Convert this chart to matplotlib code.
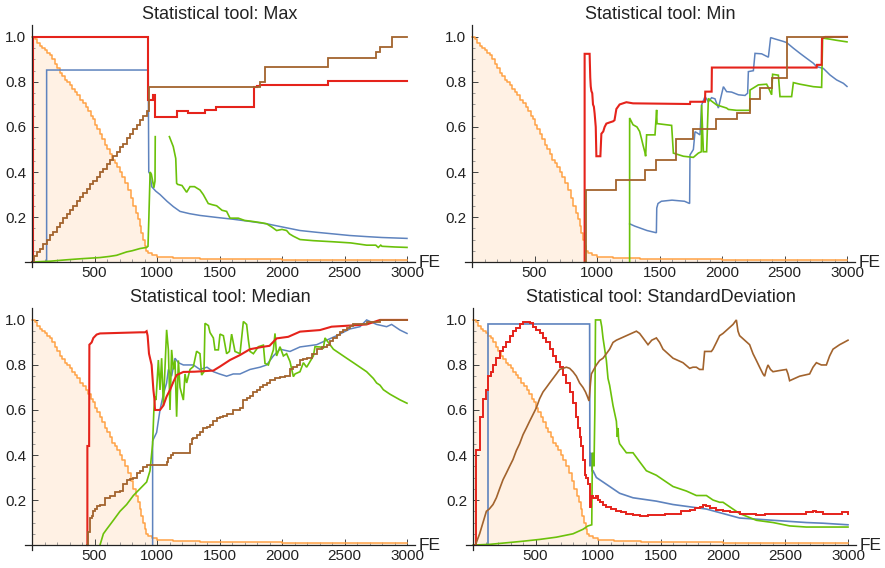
"""Four panels: normalised statistics of five series vs. function evaluations (FE)."""

import matplotlib.pyplot as plt
import numpy as np
from matplotlib.ticker import FixedLocator, MultipleLocator

plt.rcParams["font.family"] = ["Liberation Sans", "DejaVu Sans"]

# ---------------------------------------------------------------- data
# each series is a list of (FE, value) points

titles = ["Statistical tool: Max", "Statistical tool: Min",
          "Statistical tool: Median", "Statistical tool: StandardDeviation"]
x_ticks = [500, 1000, 1500, 2000, 2500, 3000]
x_tick_labels = ["500", "1000", "1500", "2000", "2500", "3000"]
y_ticks = [0.2, 0.4, 0.6, 0.8, 1.0]
y_tick_labels = ["0.2", "0.4", "0.6", "0.8", "1.0"]

# shared, filled curve (same in every panel)
orange = [(0, 1.0), (20, 0.99), (40, 0.975), (60, 0.96), (80, 0.95), (100, 0.94),
          (120, 0.93), (140, 0.92), (160, 0.90), (180, 0.88), (200, 0.86), (220, 0.84),
          (240, 0.825), (260, 0.81), (280, 0.80), (300, 0.785), (320, 0.77), (340, 0.755),
          (360, 0.74), (385, 0.72), (410, 0.705), (430, 0.69), (450, 0.67), (470, 0.65),
          (490, 0.635), (505, 0.61), (520, 0.59), (540, 0.57), (560, 0.545), (580, 0.52),
          (600, 0.50), (620, 0.48), (640, 0.455), (660, 0.44), (680, 0.42), (700, 0.40),
          (720, 0.38), (745, 0.35), (770, 0.32), (790, 0.285), (810, 0.25), (830, 0.22),
          (850, 0.19), (865, 0.16), (875, 0.13), (890, 0.10), (900, 0.07), (915, 0.05),
          (930, 0.04), (960, 0.03), (1000, 0.024), (1130, 0.016), (1340, 0.013),
          (2000, 0.01), (2500, 0.007), (2800, 0.009), (3000, 0.01)]

# --- Max
max_red = [(0, 0.0), (8, 1.0), (931, 0.72), (968, 0.742), (984, 0.645), (1162, 0.672),
           (1250, 0.661), (1382, 0.676), (1470, 0.69), (1778, 0.779), (1800, 0.783),
           (1824, 0.787), (2370, 0.804), (3000, 0.804)]
max_blue = [(117, 0.0), (117, 0.853), (930, 0.853), (934, 0.40), (945, 0.39), (957, 0.335),
            (990, 0.315), (1024, 0.30), (1080, 0.27), (1131, 0.246), (1184, 0.225),
            (1260, 0.215), (1344, 0.207), (1480, 0.198), (1611, 0.19), (1750, 0.18),
            (1877, 0.17), (2010, 0.155), (2144, 0.14), (2280, 0.132), (2411, 0.125),
            (2540, 0.118), (2677, 0.113), (2800, 0.109), (2900, 0.107), (3000, 0.105)]
max_green = [(0, 0.0), (150, 0.004), (277, 0.01), (400, 0.015), (544, 0.02), (620, 0.025),
             (677, 0.03), (757, 0.045), (800, 0.05), (864, 0.06), (917, 0.065), (928, 0.07),
             (935, 0.2), (945, 0.40), (955, 0.39), (965, 0.36), (975, 0.33), (984, 0.36),
             (986, 0.557), (990, np.nan), (1099, 0.557), (1130, 0.513), (1150, 0.46),
             (1157, 0.35), (1165, 0.345), (1200, 0.34), (1237, 0.31), (1264, 0.335),
             (1300, 0.335), (1344, 0.32), (1370, 0.30), (1410, 0.26), (1440, 0.255),
             (1477, 0.25), (1520, 0.23), (1557, 0.225), (1584, 0.195), (1650, 0.195),
             (1700, 0.185), (1770, 0.18), (1830, 0.175), (1877, 0.17), (1920, 0.155),
             (1957, 0.14), (2000, 0.145), (2037, 0.14), (2060, 0.125), (2090, 0.115),
             (2144, 0.10), (2250, 0.095), (2410, 0.09), (2550, 0.085), (2677, 0.075),
             (2750, 0.075), (2770, 0.065), (2790, 0.075), (2800, 0.07), (2900, 0.067),
             (3000, 0.065)]
max_brown = [(0, 0.0), (15, 0.025), (40, 0.045), (65, 0.06), (90, 0.08), (118, 0.10),
             (145, 0.12), (170, 0.135), (198, 0.155), (225, 0.175), (250, 0.195),
             (278, 0.215), (305, 0.23), (330, 0.25), (358, 0.27), (385, 0.29), (410, 0.305),
             (438, 0.325), (465, 0.345), (490, 0.36), (518, 0.38), (545, 0.40), (570, 0.415),
             (598, 0.435), (625, 0.455), (650, 0.47), (678, 0.49), (705, 0.51), (730, 0.525),
             (758, 0.55), (785, 0.57), (810, 0.59), (838, 0.61), (865, 0.63), (890, 0.65),
             (918, 0.67), (933, 0.779), (1824, 0.80), (1864, 0.868), (2370, 0.905),
             (2750, 0.935), (2784, 0.955), (2877, 1.0), (3000, 1.0)]

# --- Min
min_red = [(901, 0.0), (901, 0.925), (941, 0.925), (946, 0.82), (950, 0.78), (955, 0.76),
           (962, 0.75), (968, 0.70), (975, 0.69), (981, 0.66), (990, 0.60), (995, 0.47),
           (1027, 0.47), (1035, 0.57), (1050, 0.58), (1061, 0.60), (1075, 0.615),
           (1100, 0.62), (1128, 0.625), (1140, 0.63), (1155, 0.68), (1181, 0.70),
           (1235, 0.71), (1288, 0.705), (1744, 0.702), (1746, 0.712), (1864, 0.712),
           (1866, 0.757), (1917, 0.757), (1919, 0.864), (2757, 0.864), (2760, 0.876),
           (2797, 0.876), (2800, 0.994), (2824, 1.0), (3000, 1.0)]
min_blue = [(1261, 0.17), (1300, 0.16), (1350, 0.15), (1400, 0.14), (1475, 0.13),
            (1478, 0.24), (1488, 0.26), (1515, 0.27), (1600, 0.275), (1700, 0.27),
            (1741, 0.26), (1744, 0.476), (1771, 0.50), (1784, 0.579), (1797, 0.575),
            (1824, 0.565), (1837, 0.698), (1864, 0.735), (1891, 0.712), (1917, 0.73),
            (1944, 0.725), (1971, 0.684), (2011, 0.779), (2037, 0.757), (2077, 0.755),
            (2131, 0.743), (2184, 0.74), (2205, 0.75), (2211, 0.846), (2251, 0.85),
            (2264, 0.927), (2317, 0.925), (2371, 0.91), (2389, 0.997), (2430, 0.99),
            (2491, 0.98), (2517, 0.975), (2571, 0.95), (2624, 0.927), (2677, 0.905),
            (2731, 0.883), (2757, 0.868), (2811, 0.86), (2864, 0.831), (2917, 0.809),
            (2971, 0.794), (3000, 0.78)]
min_green = [(1261, 0.0), (1261, 0.64), (1288, 0.61), (1320, 0.60), (1341, 0.58),
             (1355, 0.55), (1368, 0.52), (1384, 0.486), (1389, 0.47), (1397, 0.565),
             (1464, 0.565), (1477, 0.676), (1480, 0.615), (1597, 0.607), (1611, 0.484),
             (1691, 0.47), (1771, 0.465), (1811, 0.484), (1835, 0.49), (1837, 0.698),
             (1851, 0.49), (1877, 0.49), (1891, 0.727), (1904, 0.72), (1957, 0.698),
             (2037, 0.684), (2051, 0.678), (2117, 0.674), (2222, 0.674), (2224, 0.764),
             (2291, 0.787), (2357, 0.79), (2371, 0.775), (2397, 0.743), (2405, 0.834),
             (2451, 0.83), (2464, 0.735), (2557, 0.735), (2571, 0.797), (2624, 0.79),
             (2731, 0.779), (2797, 0.776), (2805, 0.995), (2864, 0.99), (2917, 0.985),
             (3000, 0.978)]
min_brown = [(901, 0.0), (915, 0.32), (1155, 0.364), (1384, 0.409), (1472, 0.453),
             (1632, 0.547), (1771, 0.591), (1952, 0.636), (2123, 0.662), (2224, 0.724),
             (2304, 0.773), (2397, 0.818), (2517, 1.0), (3000, 1.0)]

# --- Median
med_red = [(443, 0.0), (443, 0.44), (457, 0.44), (459, 0.89), (477, 0.90), (491, 0.92),
           (517, 0.935), (544, 0.94), (864, 0.945), (904, 0.945), (917, 0.95), (925, 0.93),
           (936, 0.85), (957, 0.80), (971, 0.69), (979, 0.65), (984, 0.60), (1024, 0.60),
           (1051, 0.62), (1077, 0.66), (1104, 0.689), (1131, 0.725), (1157, 0.755),
           (1211, 0.769), (1300, 0.77), (1451, 0.775), (1504, 0.793), (1584, 0.822),
           (1664, 0.844), (1744, 0.87), (1851, 0.881), (1900, 0.885), (1957, 0.918),
           (2050, 0.925), (2144, 0.948), (2304, 0.955), (2397, 0.97), (2544, 0.975),
           (2677, 0.98), (2784, 1.0), (3000, 1.0)]
med_blue = [(965, 0.0), (965, 0.46), (971, 0.47), (997, 0.50), (1024, 0.60), (1051, 0.67),
            (1077, 0.72), (1091, 0.78), (1117, 0.75), (1144, 0.83), (1171, 0.81),
            (1211, 0.80), (1291, 0.80), (1344, 0.78), (1400, 0.79), (1451, 0.77),
            (1500, 0.76), (1557, 0.75), (1610, 0.76), (1664, 0.76), (1744, 0.78),
            (1824, 0.79), (1877, 0.80), (1931, 0.84), (1984, 0.87), (2064, 0.86),
            (2144, 0.88), (2277, 0.89), (2357, 0.91), (2437, 0.93), (2544, 0.96),
            (2624, 0.97), (2677, 1.0), (2757, 0.98), (2837, 0.97), (2877, 0.98),
            (2944, 0.955), (3000, 0.94)]
med_green = [(544, 0.0), (571, 0.05), (597, 0.07), (651, 0.11), (704, 0.15), (757, 0.18),
             (811, 0.22), (864, 0.25), (917, 0.28), (944, 0.33), (965, 0.45), (975, 0.60),
             (984, 0.66), (992, 0.644), (1011, 0.822), (1024, 0.689), (1037, 0.83),
             (1051, 0.62), (1077, 0.956), (1091, 0.867), (1104, 0.60), (1117, 0.867),
             (1131, 0.78), (1144, 0.82), (1157, 0.57), (1171, 0.82), (1184, 0.70),
             (1211, 0.644), (1224, 0.76), (1237, 0.72), (1264, 0.78), (1291, 0.793),
             (1317, 0.861), (1344, 0.85), (1357, 0.755), (1376, 0.77), (1384, 0.985),
             (1411, 0.975), (1424, 0.944), (1451, 0.92), (1464, 0.867), (1491, 0.867),
             (1504, 0.937), (1531, 0.93), (1557, 0.85), (1579, 0.86), (1597, 0.937),
             (1624, 0.86), (1664, 0.85), (1691, 0.993), (1717, 0.98), (1731, 0.911),
             (1744, 0.86), (1771, 0.85), (1811, 0.881), (1851, 0.888), (1864, 0.807),
             (1891, 0.80), (1931, 0.867), (1944, 0.94), (1957, 0.84), (1984, 0.881),
             (2011, 0.84), (2037, 0.85), (2064, 0.815), (2091, 0.748), (2104, 0.76),
             (2144, 0.77), (2171, 0.81), (2197, 0.79), (2251, 0.84), (2264, 0.881),
             (2304, 0.88), (2331, 0.875), (2344, 0.92), (2384, 0.89), (2411, 0.87),
             (2464, 0.85), (2517, 0.83), (2571, 0.81), (2624, 0.79), (2677, 0.77),
             (2731, 0.74), (2757, 0.72), (2784, 0.71), (2811, 0.69), (2864, 0.67),
             (2944, 0.645), (3000, 0.63)]
med_brown = [(443, 0.0), (444, 0.06), (465, 0.12), (477, 0.13), (490, 0.15), (504, 0.16),
             (520, 0.175), (544, 0.18), (584, 0.21), (624, 0.22), (664, 0.235), (704, 0.24),
             (730, 0.27), (757, 0.29), (784, 0.295), (811, 0.30), (838, 0.32), (864, 0.33),
             (890, 0.345), (917, 0.355), (1077, 0.37), (1091, 0.385), (1111, 0.40),
             (1131, 0.41), (1264, 0.45), (1277, 0.47), (1291, 0.475), (1317, 0.49),
             (1344, 0.50), (1371, 0.52), (1397, 0.525), (1424, 0.535), (1451, 0.55),
             (1477, 0.565), (1504, 0.57), (1530, 0.575), (1557, 0.58), (1611, 0.60),
             (1664, 0.61), (1691, 0.645), (1717, 0.655), (1744, 0.66), (1771, 0.68),
             (1797, 0.69), (1824, 0.70), (1851, 0.71), (1877, 0.72), (1904, 0.735),
             (1944, 0.74), (1984, 0.745), (2024, 0.75), (2064, 0.78), (2091, 0.79),
             (2117, 0.80), (2144, 0.82), (2171, 0.825), (2197, 0.83), (2237, 0.85),
             (2277, 0.87), (2317, 0.88), (2357, 0.89), (2384, 0.905), (2411, 0.92),
             (2437, 0.935), (2464, 0.945), (2490, 0.955), (2517, 0.965), (2544, 0.975),
             (2571, 0.98), (2677, 0.99), (2784, 1.0), (3000, 1.0)]

# --- StandardDeviation
std_red = [(19, 0.0), (21, 0.42), (53, 0.57), (80, 0.65), (107, 0.69), (120, 0.75),
           (140, 0.77), (160, 0.80), (187, 0.83), (213, 0.86), (240, 0.88), (267, 0.90),
           (293, 0.93), (320, 0.95), (347, 0.965), (373, 0.98), (400, 0.99), (427, 0.99),
           (453, 0.985), (480, 0.97), (507, 0.955), (533, 0.94), (560, 0.92), (587, 0.90),
           (613, 0.87), (640, 0.84), (667, 0.815), (693, 0.79), (720, 0.755), (747, 0.72),
           (773, 0.68), (800, 0.63), (820, 0.57), (840, 0.52), (853, 0.48), (867, 0.44),
           (880, 0.38), (893, 0.31), (907, 0.30), (920, 0.27), (933, 0.17), (947, 0.22),
           (960, 0.21), (973, 0.21), (987, 0.22), (1000, 0.20), (1013, 0.19), (1040, 0.18),
           (1067, 0.17), (1100, 0.16), (1147, 0.15), (1187, 0.145), (1227, 0.14),
           (1280, 0.135), (1333, 0.13), (1400, 0.135), (1467, 0.135), (1533, 0.14),
           (1600, 0.14), (1667, 0.15), (1733, 0.155), (1780, 0.165), (1813, 0.17),
           (1840, 0.18), (1867, 0.175), (1900, 0.165), (1947, 0.155), (2000, 0.15),
           (2053, 0.145), (2133, 0.14), (2200, 0.138), (2267, 0.135), (2333, 0.14),
           (2400, 0.14), (2500, 0.14), (2600, 0.14), (2667, 0.145), (2720, 0.15),
           (2747, 0.148), (2800, 0.14), (2900, 0.14), (2950, 0.145), (3000, 0.14)]
std_blue = [(120, 0.0), (120, 0.982), (933, 0.982), (935, 0.35), (945, 0.41), (952, 0.33),
            (960, 0.33), (987, 0.30), (1067, 0.27), (1173, 0.23), (1280, 0.21),
            (1467, 0.195), (1600, 0.18), (1733, 0.17), (1867, 0.16), (2000, 0.14),
            (2133, 0.12), (2267, 0.115), (2400, 0.11), (2533, 0.105), (2667, 0.10),
            (2800, 0.097), (3000, 0.09)]
std_green = [(0, 0.0), (133, 0.003), (267, 0.01), (400, 0.017), (533, 0.025), (667, 0.035),
             (800, 0.05), (880, 0.07), (920, 0.085), (950, 0.09), (955, 0.41), (965, 0.40),
             (968, 0.35), (975, 0.60), (980, 1.0), (1020, 1.0), (1030, 0.97), (1040, 0.92),
             (1067, 0.82), (1080, 0.74), (1093, 0.71), (1120, 0.62), (1147, 0.55),
             (1155, 0.48), (1160, 0.52), (1165, 0.47), (1173, 0.45), (1200, 0.43),
             (1227, 0.41), (1280, 0.41), (1333, 0.37), (1387, 0.33), (1467, 0.31),
             (1520, 0.29), (1600, 0.26), (1707, 0.24), (1787, 0.22), (1867, 0.22),
             (1920, 0.20), (1973, 0.19), (2000, 0.19), (2053, 0.17), (2133, 0.14),
             (2200, 0.125), (2267, 0.11), (2400, 0.10), (2533, 0.085), (2667, 0.08),
             (3000, 0.08)]
std_brown = [(19, 0.0), (53, 0.05), (80, 0.10), (107, 0.15), (130, 0.16), (160, 0.18),
             (187, 0.21), (213, 0.25), (240, 0.29), (267, 0.32), (293, 0.35), (320, 0.38),
             (347, 0.42), (373, 0.45), (400, 0.49), (427, 0.52), (453, 0.55), (480, 0.58),
             (507, 0.61), (533, 0.65), (560, 0.68), (587, 0.70), (613, 0.72), (640, 0.74),
             (667, 0.76), (693, 0.78), (720, 0.785), (747, 0.79), (773, 0.785), (800, 0.77),
             (827, 0.75), (853, 0.72), (880, 0.70), (900, 0.68), (915, 0.66), (928, 0.64),
             (940, 0.72), (947, 0.76), (967, 0.78), (987, 0.80), (1013, 0.82), (1040, 0.83),
             (1067, 0.85), (1093, 0.87), (1120, 0.90), (1147, 0.91), (1187, 0.92),
             (1227, 0.93), (1267, 0.94), (1307, 0.95), (1333, 0.94), (1360, 0.92),
             (1400, 0.89), (1430, 0.91), (1467, 0.92), (1493, 0.90), (1520, 0.87),
             (1560, 0.85), (1600, 0.83), (1640, 0.82), (1680, 0.81), (1733, 0.785),
             (1760, 0.79), (1787, 0.79), (1813, 0.78), (1840, 0.78), (1853, 0.86),
             (1880, 0.86), (1907, 0.86), (1920, 0.87), (1947, 0.90), (1973, 0.93),
             (2000, 0.94), (2040, 0.96), (2080, 0.98), (2107, 1.0), (2120, 0.95),
             (2133, 0.93), (2173, 0.91), (2213, 0.89), (2240, 0.85), (2267, 0.82),
             (2293, 0.79), (2320, 0.76), (2333, 0.75), (2347, 0.78), (2360, 0.80),
             (2380, 0.78), (2400, 0.77), (2450, 0.775), (2507, 0.78), (2520, 0.76),
             (2533, 0.73), (2573, 0.74), (2613, 0.75), (2653, 0.755), (2693, 0.76),
             (2720, 0.79), (2747, 0.81), (2787, 0.80), (2827, 0.80), (2853, 0.84),
             (2880, 0.87), (2933, 0.89), (2967, 0.90), (3000, 0.91)]

# ---------------------------------------------------------------- style
ORANGE = "#FFA245"
RED = "#E5231B"
BLUE = "#5E83BE"
GREEN = "#6BC10A"
BROWN = "#A2632D"

# (series, colour, linewidth, drawstyle) per panel, bottom to top
panels = [
    [(max_blue, BLUE, 1.1, "default"), (max_green, GREEN, 1.2, "default"),
     (max_red, RED, 1.5, "steps-post"), (max_brown, BROWN, 1.3, "steps-post")],
    [(min_blue, BLUE, 1.1, "default"), (min_green, GREEN, 1.2, "default"),
     (min_red, RED, 1.5, "default"), (min_brown, BROWN, 1.3, "steps-post")],
    [(med_blue, BLUE, 1.1, "default"), (med_green, GREEN, 1.2, "default"),
     (med_red, RED, 1.5, "default"), (med_brown, BROWN, 1.3, "steps-post")],
    [(std_blue, BLUE, 1.2, "default"), (std_green, GREEN, 1.2, "default"),
     (std_red, RED, 1.4, "steps-post"), (std_brown, BROWN, 1.2, "default")],
]

# axes boxes in pixels: left, top, right, bottom
W, H = 885, 568
boxes = [(25, 25, 415, 267), (465, 25, 855, 267),
         (25, 308, 415, 550), (466, 308, 856, 550)]


def draw_panel(ax, title, series):
    ox, oy = np.array(orange).T
    ax.fill_between(ox, oy, 0, step="post", color=ORANGE, alpha=0.14, lw=0)
    ax.plot(ox, oy, color=ORANGE, lw=1.1, drawstyle="steps-post")
    for pts, col, lw, ds in series:
        x, y = np.array(pts, dtype=float).T
        ax.plot(x, y, color=col, lw=lw, drawstyle=ds, solid_joinstyle="miter")

    ax.set_xlim(-56, 3064)
    ax.set_ylim(-0.022, 1.053)
    for side in ("top", "right"):
        ax.spines[side].set_visible(False)
    ax.spines["left"].set_position(("data", 0))
    ax.spines["bottom"].set_position(("data", 0))
    for side in ("left", "bottom"):
        ax.spines[side].set_linewidth(0.9)
        ax.spines[side].set_color("#222222")

    ax.set_xticks(x_ticks, labels=x_tick_labels)
    ax.set_yticks(y_ticks, labels=y_tick_labels)
    ax.xaxis.set_minor_locator(MultipleLocator(100))
    ax.yaxis.set_minor_locator(FixedLocator(np.arange(0.05, 1.01, 0.05)))
    ax.tick_params(which="major", direction="in", length=4, width=0.7,
                   color="#444444", labelsize=11, labelcolor="#222222")
    ax.tick_params(which="minor", direction="in", length=2, width=0.5, color="#777777")
    ax.tick_params(axis="x", pad=3)
    ax.tick_params(axis="y", pad=4)

    ax.text(3090, 0, "FE", ha="left", va="center", fontsize=12.5, color="#222222",
            clip_on=False)
    ax.set_title(title, fontsize=13, color="#222222", pad=4)


fig = plt.figure(figsize=(W / 100, H / 100), dpi=100)
for (l, t, r, b), title, series in zip(boxes, titles, panels):
    ax = fig.add_axes([l / W, 1 - b / H, (r - l) / W, (b - t) / H])
    draw_panel(ax, title, series)

fig.savefig("out.png", dpi=100)
